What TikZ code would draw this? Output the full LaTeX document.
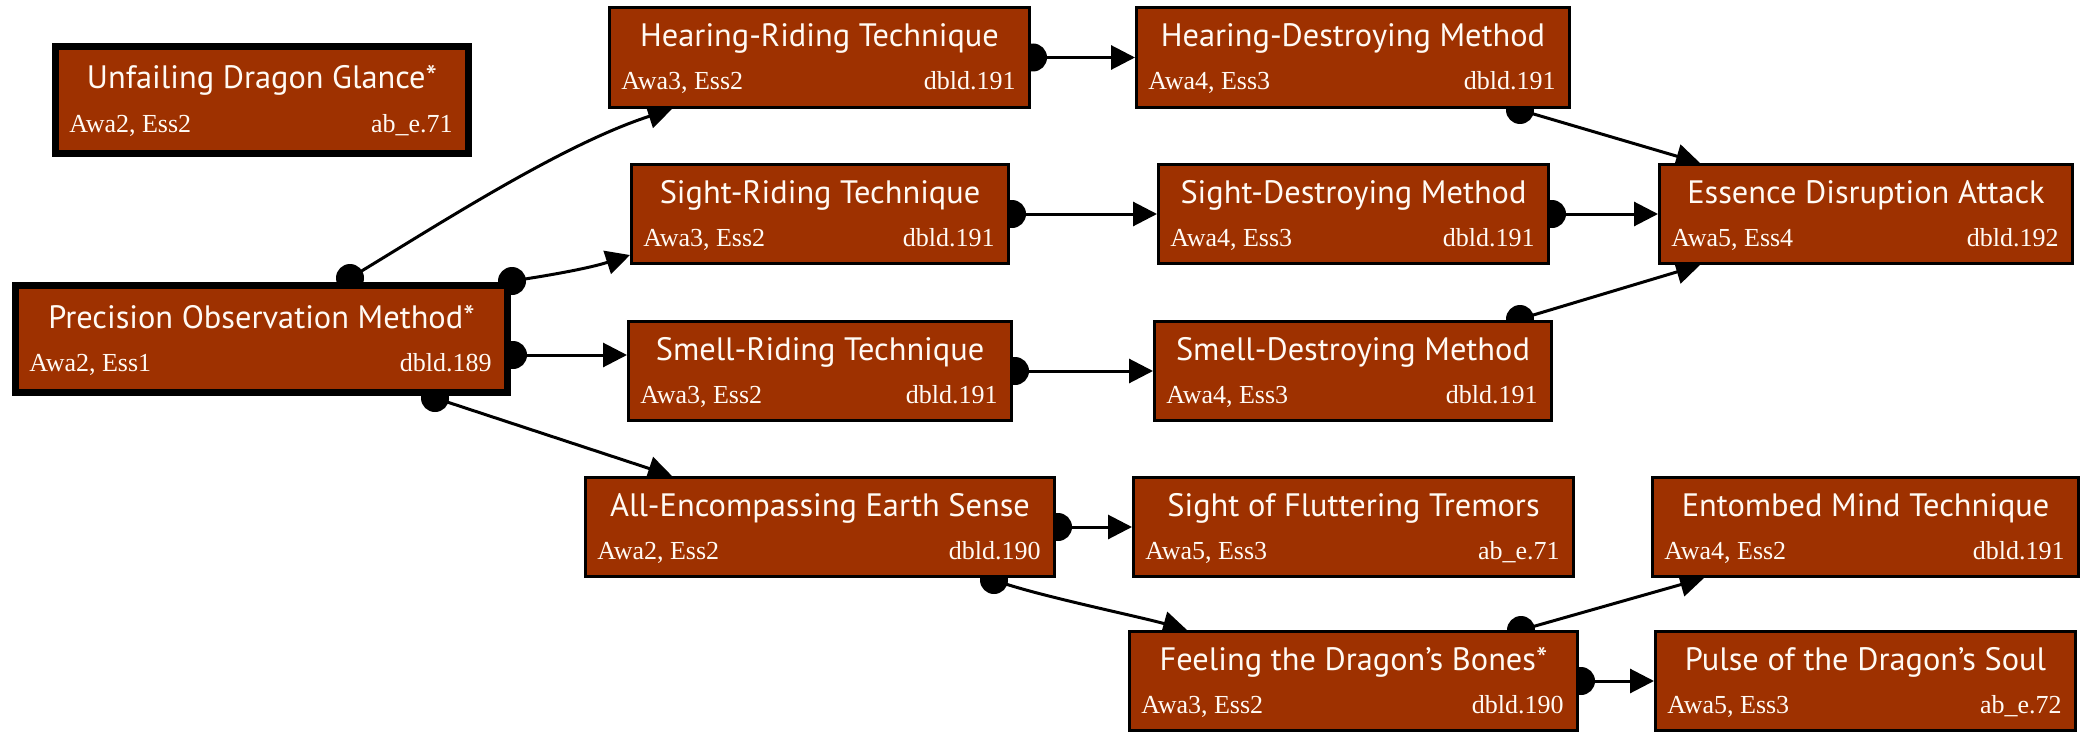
\documentclass[tikz,border=0pt]{standalone}
\usepackage{fontspec}
\setmainfont{Liberation Serif}
\newfontfamily\titlefont{PT Sans}
\usetikzlibrary{arrows.meta,calc}
\pgfdeclarelayer{background}
\pgfsetlayers{background,main}

\definecolor{skillfill}{RGB}{158,49,0}
\definecolor{skilltext}{RGB}{255,250,244}

\tikzset{
  skillbox/.style={draw=black, fill=skillfill, rectangle, inner sep=0pt},
  titletext/.style={text=skilltext, font=\titlefont\fontsize{16.2}{19}\selectfont, anchor=base, inner sep=0pt},
  subtext/.style={text=skilltext, font=\fontsize{13}{15}\selectfont, inner sep=0pt},
  link/.style={line width=1.5pt, -{Triangle[length=12pt,width=12pt]}},
  tail/.style={fill=black},
}

% \skill{name}{border px}{x1}{y1}{x2}{y2}{title}{left note}{right note}
\newcommand\skill[9]{%
  \node[skillbox, line width=#2*0.5pt, outer sep=#2*0.25pt,
        minimum width={(#5-#3-#2)*0.5pt}, minimum height={(#6-#4-#2)*0.5pt}]
        (#1) at ({(#3+#5)/2},{(#4+#6)/2}) {};
  \node[titletext] (#1-t) at ($(#1.center)+(0,-11)$) {#7};
  \node[subtext, anchor=base west] (#1-l) at ($(#1.west)+(10+#2,32.5)$) {#8};
  \node[subtext, anchor=base east] (#1-r) at ($(#1.east)+(-12-#2,32.5)$) {#9};
}

\begin{document}
\begin{tikzpicture}[x=0.5pt, y=-0.5pt]
\useasboundingbox (0,0) rectangle (2087,733);

% skills
\skill{udg}{7}{52}{43}{472}{157}{Unfailing Dragon Glance*}{Awa2, Ess2}{ab\_e.71}
\skill{pom}{7}{12}{282}{511}{396}{Precision Observation Method*}{Awa2, Ess1}{dbld.189}
\skill{hrt}{3}{608}{6}{1031}{109}{Hearing-Riding Technique}{Awa3, Ess2}{dbld.191}
\skill{srt}{3}{630}{163}{1010}{265}{Sight-Riding Technique}{Awa3, Ess2}{dbld.191}
\skill{mrt}{3}{627}{320}{1013}{422}{Smell-Riding Technique}{Awa3, Ess2}{dbld.191}
\skill{aes}{3}{584}{476}{1056}{578}{All-Encompassing Earth Sense}{Awa2, Ess2}{dbld.190}
\skill{hdm}{3}{1135}{6}{1571}{109}{Hearing-Destroying Method}{Awa4, Ess3}{dbld.191}
\skill{sdm}{3}{1157}{163}{1550}{265}{Sight-Destroying Method}{Awa4, Ess3}{dbld.191}
\skill{mdm}{3}{1153}{320}{1553}{422}{Smell-Destroying Method}{Awa4, Ess3}{dbld.191}
\skill{sft}{3}{1132}{476}{1575}{578}{Sight of Fluttering Tremors}{Awa5, Ess3}{ab\_e.71}
\skill{fdb}{3}{1128}{630}{1579}{732}{Feeling the Dragon’s Bones*}{Awa3, Ess2}{dbld.190}
\skill{eda}{3}{1658}{163}{2074}{265}{Essence Disruption Attack}{Awa5, Ess4}{dbld.192}
\skill{emt}{3}{1651}{476}{2080}{578}{Entombed Mind Technique}{Awa4, Ess2}{dbld.191}
\skill{pds}{3}{1654}{630}{2077}{732}{Pulse of the Dragon’s Soul}{Awa5, Ess3}{ab\_e.72}

% prerequisite links, drawn beneath the boxes
\begin{pgfonlayer}{background}
  % tails
  \coordinate (t1) at ($(pom.north west)+(338,-4)$);
  \coordinate (t2) at ($(pom.north east)+(1,-1)$);
  \coordinate (t3) at ($(pom.south east)+(2,-41)$);
  \coordinate (t4) at ($(pom.south west)+(423,2)$);
  \coordinate (t5) at ($(hrt.east)+(2,0)$);
  \coordinate (t6) at ($(srt.east)+(2,0)$);
  \coordinate (t7) at ($(mrt.east)+(2,0)$);
  \coordinate (t8) at ($(hdm.south east)+(-51,1)$);
  \coordinate (t9) at ($(sdm.east)+(2,0)$);
  \coordinate (t10) at ($(mdm.north east)+(-33,-1)$);
  \coordinate (t11) at ($(aes.east)+(2,0)$);
  \coordinate (t12) at ($(aes.south east)+(-62,2)$);
  \coordinate (t13) at ($(fdb.north east)+(-58,0)$);
  \coordinate (t14) at ($(fdb.east)+(2,0)$);

  \foreach \t in {t1,t2,t3,t4,t5,t6,t7,t8,t9,t10,t11,t12,t13,t14}
    \fill[tail] (\t) circle[radius=7pt];

  \draw[link] (t1) .. controls +(80,-48) and +(-112,36) .. ($(hrt.south west)+(64,0)$);
  \draw[link] (t2) .. controls +(40,-6) and +(-40,13) .. ($(srt.south west)+(0,-10)$);
  \draw[link] (t3) -- ($(mrt.west)+(0,-16)$);
  \draw[link] (t4) -- ($(aes.north west)+(88,0)$);
  \draw[link] (t5) -- (hdm.west);
  \draw[link] (t6) -- (sdm.west);
  \draw[link] (t7) -- (mdm.west);
  \draw[link] (t8) -- ($(eda.north west)+(42,0)$);
  \draw[link] (t9) -- (eda.west);
  \draw[link] (t10) -- ($(eda.south west)+(42,0)$);
  \draw[link] (t11) -- (sft.west);
  \draw[link] (t12) .. controls +(40,15) and +(-50,-14) .. ($(fdb.north west)+(59,0)$);
  \draw[link] (t13) -- ($(emt.south west)+(53,0)$);
  \draw[link] (t14) -- (pds.west);
\end{pgfonlayer}
\end{tikzpicture}
\end{document}
